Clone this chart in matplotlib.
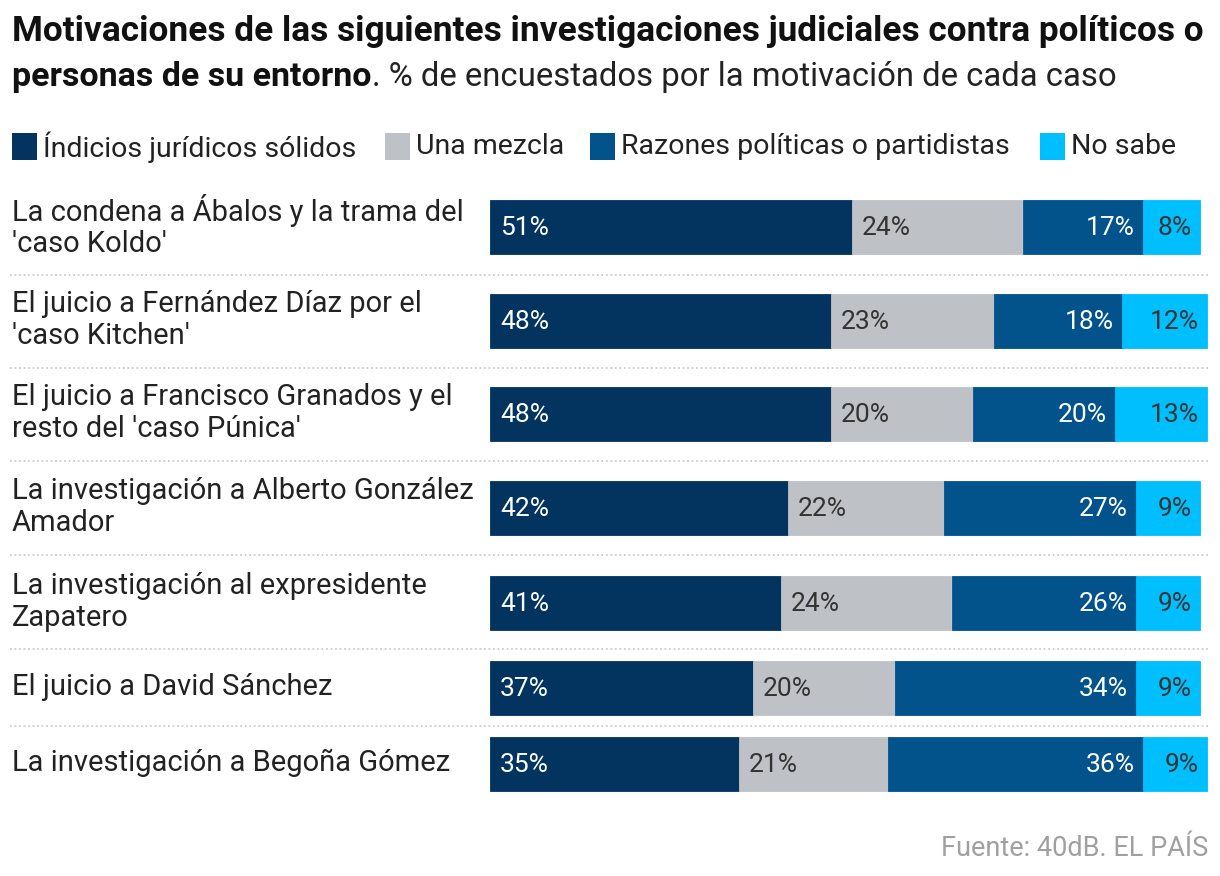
import matplotlib
matplotlib.use("Agg")
import matplotlib.pyplot as plt
from matplotlib.transforms import blended_transform_factory

# ── Data ──
casos = [
    "La condena a Ábalos y la trama del\n'caso Koldo'",
    "El juicio a Fernández Díaz por el\n'caso Kitchen'",
    "El juicio a Francisco Granados y el\nresto del 'caso Púnica'",
    "La investigación a Alberto González\nAmador",
    "La investigación al expresidente\nZapatero",
    "El juicio a David Sánchez",
    "La investigación a Begoña Gómez",
]
categorias = ["Índicios jurídicos sólidos", "Una mezcla",
              "Razones políticas o partidistas", "No sabe"]
indicios = [51, 48, 48, 42, 41, 37, 35]
mezcla = [24, 23, 20, 22, 24, 20, 21]
politicas = [17, 18, 20, 27, 26, 34, 36]
no_sabe = [8, 12, 13, 9, 9, 9, 9]

colores = ["#02345f", "#bec2c6", "#02538b", "#00bfff"]
texto_col = ["white", "#333333", "white", "#333333"]

plt.rcParams["font.family"] = ["Roboto", "DejaVu Sans"]

W, H = 1220, 876
fig = plt.figure(figsize=(W / 100, H / 100), dpi=100)
fig.patch.set_facecolor("white")

# bars area: x from 490px, 7.1 px per %  (some rows add up to 101%)
ax = fig.add_axes([490 / W, 0, 725 / W, 1])
ax.set_xlim(0, 725 / 7.1)
ax.set_ylim(H, 0)
ax.axis("off")

row_y = [227, 321, 414, 508, 603, 688, 764]
sep_y = [275, 368, 461, 555, 649, 726]
bar_h = 54

series = [indicios, mezcla, politicas, no_sabe]
left = [0] * len(casos)
for k, vals in enumerate(series):
    ax.barh(row_y, vals, left=left, height=bar_h, color=colores[k],
            edgecolor=colores[k], linewidth=0.6)
    for i, v in enumerate(vals):
        if k < 2:
            x, ha = left[i] + 1.4, "left"
        else:
            x, ha = left[i] + v - 1.2, "right"
        ax.text(x, row_y[i] + 1, f"{v}%", ha=ha, va="center",
                fontsize=19, color=texto_col[k])
    left = [a + b for a, b in zip(left, vals)]

trans = blended_transform_factory(fig.transFigure, ax.transData)
for i, c in enumerate(casos):
    fig.text(12 / W, row_y[i] - 1, c, transform=trans, ha="left", va="center",
             fontsize=21, color="#222222", linespacing=1.15)

for y in sep_y:
    fig.add_artist(plt.Line2D([10 / W, 1210 / W], [y, y], transform=trans,
                              color="#cccccc", linewidth=1.3, linestyle=(0, (1, 1.5))))

# ── Title ──
fig.text(12 / W, 1 - 32 / H, "Motivaciones de las siguientes investigaciones judiciales contra políticos o",
         fontsize=25.4, fontweight="bold", color="#111111", va="center", ha="left")
t2 = fig.text(12 / W, 1 - 77 / H, "personas de su entorno", fontsize=24.5,
              fontweight="bold", color="#111111", va="center", ha="left")
fig_ax = fig.add_axes([0, 0, 1, 1], facecolor="none")
fig_ax.axis("off")
fig_ax.annotate(". % de encuestados por la motivación de cada caso", xy=(1, 0),
                xycoords=t2, ha="left", va="bottom", fontsize=23.7, color="#222222")

# ── Legend ──
leg_x = [12, 385, 590, 1040]
for k, cat in enumerate(categorias):
    fig.add_artist(plt.Rectangle((leg_x[k] / W, 1 - 160 / H), 25 / W, 27 / H,
                                 transform=fig.transFigure, color=colores[k], linewidth=0))
    fig.text((leg_x[k] + 31) / W, 1 - 147 / H, cat, fontsize=20.5, color="#222222",
             va="center", ha="left")

fig.text(1208 / W, 1 - 848 / H, "Fuente: 40dB. EL PAÍS", fontsize=19.5,
         color="#a0a0a0", ha="right", va="center")

fig.savefig("out.png", dpi=100, facecolor="white")
